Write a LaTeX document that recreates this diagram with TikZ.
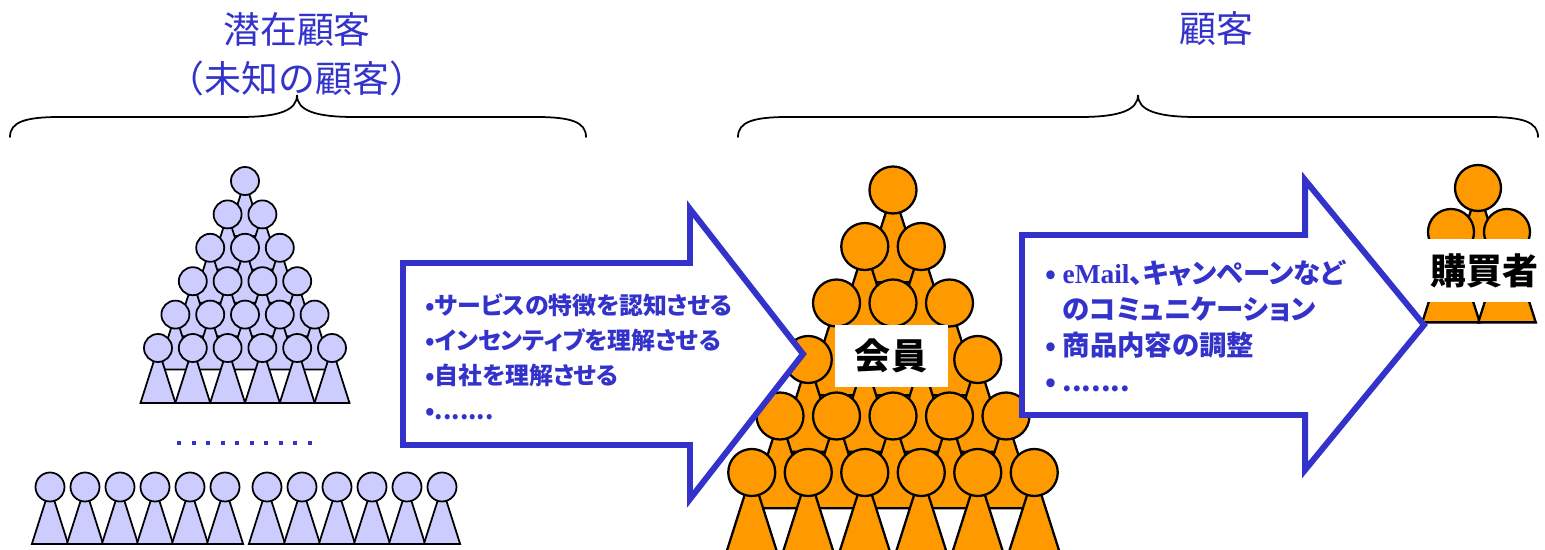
\documentclass[tikz,border=0pt]{standalone}
\usepackage{fontspec}
\usepackage{xcolor}
\usetikzlibrary{positioning}
\newfontfamily\jpfont{Noto Sans CJK JP}
\newfontfamily\jppfont{Noto Sans CJK JP}[RawFeature=+palt]
\newfontfamily\tmsfont{Liberation Serif}
\definecolor{ink}{HTML}{3333CC}
\definecolor{lavfill}{HTML}{CCCCFF}
\definecolor{orfill}{HTML}{FF9900}
\tikzset{
	person/.pic={
		\filldraw[pic actions] (0,0) -- (-1.25,3.93) -- (1.25,3.93) -- cycle;
		\filldraw[pic actions] (0,0) circle[radius=1];
	},
	lav/.style={fill=lavfill,draw=black,line width=1pt},
	orng/.style={fill=orfill,draw=black,line width=1.3pt},
	blockarrow/.style={draw=ink,fill=white,line width=3.4pt,line join=miter},
	title/.style={text=ink,font=\jpfont\fontsize{21}{27.8}\selectfont,align=center,inner sep=0pt},
	brace/.style={line width=1pt,line cap=round},
	tag/.style={fill=white,font=\jpfont\bfseries\fontsize{20.5}{24}\selectfont,inner sep=0pt},
	bullets/.style={anchor=west,inner sep=0pt,align=left,text=ink},
}

\begin{document}
\begin{tikzpicture}[x=0.02cm,y=-0.02cm]
	\useasboundingbox (0,0) rectangle (1545,550);
	% braces and titles
	\draw[brace] (10,137) .. controls (10,122) and (25,117) .. (60,117) -- (240,117) .. controls (280,117) and (297,110) .. (297,95) .. controls (297,110) and (314,117) .. (354,117) -- (536,117) .. controls (571,117) and (586,122) .. (586,137);
	\draw[brace] (738,137) .. controls (738,122) and (753,117) .. (788,117) -- (1080,117) .. controls (1120,117) and (1138,110) .. (1138,95) .. controls (1138,110) and (1156,117) .. (1196,117) -- (1488,117) .. controls (1523,117) and (1538,122) .. (1538,137);
	\node[title] (unknown) at (297,54) {潜在顧客\\（未知の顧客）};
	\node[title] (known) at (1216,29) {顧客};
	% potential customers
	\foreach \k in {1,...,6}
		\foreach \i in {1,...,\k}
			\pic[lav,scale=14] at ({245+(\i-(\k+1)/2)*34.8},{181+(\k-1)*33.4}) {person};
	\foreach \i in {0,...,9}
		\fill[ink] ({177+14.5*\i},441) rectangle ++(4,4);
	\foreach \i in {0,...,5} {
		\pic[lav,scale=14.5] at ({50+35*\i},487) {person};
		\pic[lav,scale=14.5] at ({267+35*\i},487) {person};
	}
	% members
	\foreach \k in {1,...,6}
		\foreach \i in {1,...,\k}
			\pic[orng,scale=23.5] at ({893+(\i-(\k+1)/2)*56.5},{190+(\k-1)*56.5}) {person};
	\node[tag,minimum width=2.26cm,minimum height=1.26cm] (member) at (891,356) {会員};
	% buyers
	\pic[orng,scale=23] at (1478,188) {person};
	\pic[orng,scale=23] at (1451,232) {person};
	\pic[orng,scale=23] at (1507,232) {person};
	\node[tag,anchor=west,minimum height=1.26cm,text width=2.9cm,inner xsep=0.1cm,align=left] (buyer) at (1425,270.5) {購買者};
	% arrows
	\draw[blockarrow] (403,263) -- (690,263) -- (690,209) -- (803,354) -- (690,499) -- (690,445) -- (403,445) -- cycle;
	\draw[blockarrow] (1022,235) -- (1305,235) -- (1305,180) -- (1424,325) -- (1305,470) -- (1305,415) -- (1022,415) -- cycle;
	\node[bullets,font=\jppfont\bfseries\fontsize{13.6}{19.9}\selectfont] (aware) at (425,357) {•サービスの特徴を認知させる\\•インセンティブを理解させる\\•自社を理解させる\\•.......};
	\node[bullets,font=\jppfont\bfseries\fontsize{15.6}{20.5}\selectfont] (contact) at (1045,326) {• {\tmsfont eMail}、キャンペーンなど\\\hphantom{• }のコミュニケーション\\• 商品内容の調整\\• .......};
\end{tikzpicture}
\end{document}
